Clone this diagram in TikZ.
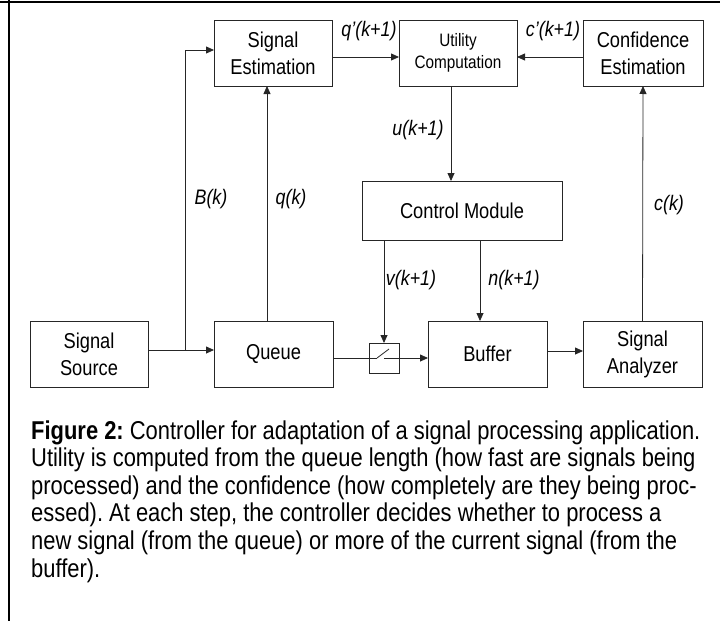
\documentclass[tikz,border=0pt]{standalone}
\usepackage{fontspec}
\setmainfont{Liberation Sans}[FakeStretch=0.85]
\usetikzlibrary{arrows.meta}
\frenchspacing
\begin{document}
\begin{tikzpicture}[x=1pt,y=-1pt,
  box/.style={draw=black!85, line width=0.8pt, inner sep=0pt, outer sep=0pt, align=center,
    font=\fontsize{21.5}{27}\selectfont},
  lbl/.style={inner sep=0pt, font=\fontsize{21}{25}\selectfont\itshape},
  wire/.style={draw=black!85, line width=0.8pt},
  arr/.style={wire, -{Triangle[length=8pt,width=7pt]}},
  frame/.style={draw=black, line width=2.2pt}
]
\useasboundingbox (0,0) rectangle (720,621);
% frame
\coordinate (ftl) at (0,2);
\coordinate (ftr) at (720,2);
\coordinate (ftop) at (9,0);
\coordinate (fbot) at (9,621);
\draw[frame] (ftl) -- (ftr);
\draw[frame] (ftop) -- (fbot);

% boxes
\node[box, minimum width=118pt, minimum height=66pt] (se) at (273,53) {Signal\\Estimation};
\node[box, minimum width=118pt, minimum height=66pt, font=\fontsize{18}{22}\selectfont] (uc) at (458,53) {Utility\\Computation};
\node[box, minimum width=120pt, minimum height=66pt] (ce) at (643,53) {Confidence\\Estimation};
\node[box, minimum width=200pt, minimum height=59pt] (cm) at (462,210.5) {Control Module};
\node[box, minimum width=118pt, minimum height=66pt] (ss) at (89,354) {Signal\\Source};
\node[box, minimum width=119pt, minimum height=66pt] (qu) at (273.5,354) {Queue};
\node[box, minimum width=119pt, minimum height=66pt] (bu) at (487.5,354) {Buffer};
\node[box, minimum width=119pt, minimum height=66pt] (sa) at (642.5,354) {Signal\\Analyzer};
\node[box, minimum width=30pt, minimum height=30pt] (sw) at (384,358) {};

% switch internals
\coordinate (swa) at (377,358);
\coordinate (swb) at (389,349);
\coordinate (swc) at (384,358);
\draw[wire] (swa) -- (swb);

% connectors
\draw[arr] ([yshift=-4pt]se.east) -- ([yshift=-4pt]uc.west);
\draw[arr] ([yshift=-4pt]ce.west) -- ([yshift=-4pt]uc.east);
\draw[arr] ([xshift=-7pt]uc.south) -- ([xshift=-7pt]uc.south |- cm.north);
\coordinate (j) at (185,350);
\draw[arr] (ss.east |- j) -- (qu.west |- j);
\draw[arr] (j) |- ([yshift=3pt]se.west);
\draw[arr] ([xshift=-6.5pt]qu.north) -- ([xshift=-6.5pt]qu.north |- se.south);
\draw[wire] ([yshift=-4pt]qu.east) -- (swa);
\draw[arr] (swc) -- (bu.west |- swc);
\draw[arr] (sw.north |- cm.south) -- (sw.north);
\draw[arr] ([xshift=-7.5pt]bu.north |- cm.south) -- ([xshift=-7.5pt]bu.north);
\draw[arr] ([yshift=3pt]bu.east) -- ([yshift=3pt]sa.west);
\draw[arr] (sa.north) -- (ce.south);

% labels
\node[lbl] (lq1) at (369,31) {q’(k+1)};
\node[lbl] (lc1) at (553,31) {c’(k+1)};
\node[lbl] (lu) at (418,130) {u(k+1)};
\node[lbl] (lb) at (211,199) {B(k)};
\node[lbl] (lq) at (291,199) {q(k)};
\node[lbl] (lc) at (669,205) {c(k)};
\node[lbl] (lv) at (411,280) {v(k+1)};
\node[lbl] (ln) at (514,280) {n(k+1)};

% caption
\node[anchor=base west, inner sep=0pt] (cap) at (31,439) {\parbox[t]{700pt}{\fontsize{25.8}{27.6}\selectfont\raggedright
\textbf{Figure 2:} Controller for adaptation of a signal processing application.\\
Utility is computed from the queue length (how fast are signals being\\
processed) and the confidence (how completely are they being proc-\\
essed). At each step, the controller decides whether to process a\\
new signal (from the queue) or more of the current signal (from the\\
buffer).}};
\end{tikzpicture}
\end{document}
